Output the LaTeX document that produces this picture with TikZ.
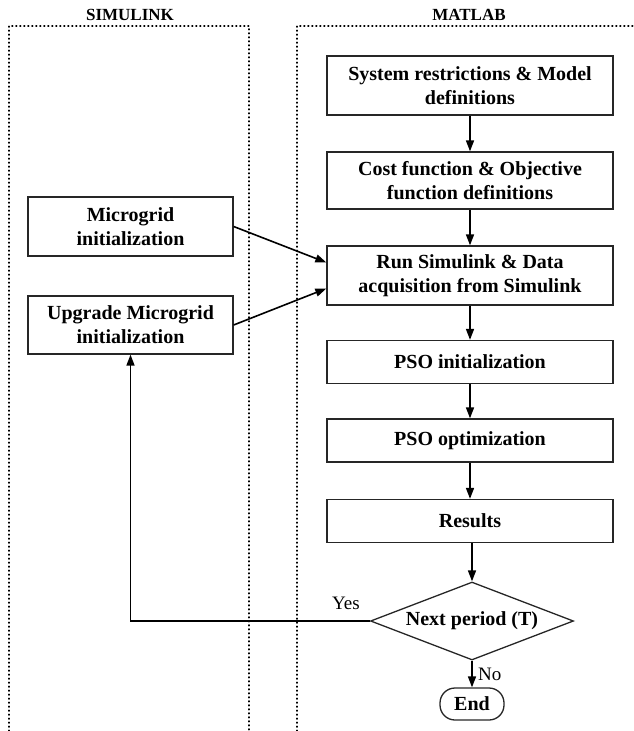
\documentclass[tikz,border=0pt]{standalone}
\usepackage{fontspec}
\setmainfont{Liberation Serif}
\usetikzlibrary{shapes.geometric, arrows.meta, positioning}

\begin{document}
\begin{tikzpicture}[
    x=1pt, y=-1pt,
    box/.style={rectangle, fill=white, draw=black!85, line width=1.3pt, minimum width=286pt, minimum height=59pt, inner sep=2pt, align=center, font=\fontsize{20}{24}\selectfont\bfseries},
    smallbox/.style={box, minimum height=43pt},
    simbox/.style={box, minimum width=205pt},
    decision/.style={diamond, aspect=2.6, draw=black!85, line width=1.3pt, minimum width=203pt, minimum height=78pt, inner sep=0pt, font=\fontsize{20}{24}\selectfont\bfseries},
    terminal/.style={rectangle, rounded corners=15pt, draw=black!85, line width=1.3pt, minimum width=64pt, minimum height=32pt, font=\fontsize{20}{24}\selectfont\bfseries},
    lbl/.style={font=\fontsize{19}{22}\selectfont},
    title/.style={font=\fontsize{17}{20}\selectfont\bfseries},
    panel/.style={black, line width=1.8pt, line cap=round, dash pattern=on 0.6pt off 3.4pt},
    arrow/.style={-{Triangle[length=11pt, width=8pt]}, line width=1.6pt}
]
    \useasboundingbox (0,0) rectangle (634,731);

    % Panels
    \draw[panel] (9,731) -- (9,26) -- (249,26) -- (249,731);
    \draw[panel] (297,731) -- (297,26) -- (640,26);
    \node[title] (simulink) at (130,15) {SIMULINK};
    \node[title] (matlab) at (469,15) {MATLAB};

    % MATLAB side
    \node[box] (restr) at (470,85.5) {System restrictions \& Model\\definitions};
    \node[box, minimum height=57pt] (cost) at (470,180.5) {Cost function \& Objective\\function definitions};
    \node[box] (run) at (470,275.5) {Run Simulink \& Data\\acquisition from Simulink};
    \node[smallbox] (psoinit) at (470,362) {PSO initialization};
    \node[smallbox] (psoopt) at (470,440.5) {PSO optimization};
    \node[smallbox] (results) at (470,521) {Results};
    \node[decision] (next) at (472,621) {Next period (T)};
    \node[terminal] (end) at (472,704) {End};

    % Simulink side
    \node[simbox] (mginit) at (130.5,226.5) {Microgrid\\initialization};
    \node[simbox, minimum height=58pt] (upgrade) at (130.5,325) {Upgrade Microgrid\\initialization};

    % Arrows
    \draw[arrow] (restr) -- (cost);
    \draw[arrow] (cost) -- (run);
    \draw[arrow] (run) -- (psoinit);
    \draw[arrow] (psoinit) -- (psoopt);
    \draw[arrow] (psoopt) -- (results);
    \draw[arrow] (results.south -| next.north) -- (next.north);
    \draw[arrow] (next.south) -- node[lbl, right=2pt]{No} (end.north);
    \draw[arrow] (mginit.east) -- ([yshift=13pt]run.west);
    \draw[arrow] (upgrade.east) -- ([yshift=-13pt]run.west);
    \draw[arrow] (next.west) -| (upgrade.south);
    \node[lbl] (yes) at (346,603) {Yes};
\end{tikzpicture}
\end{document}
